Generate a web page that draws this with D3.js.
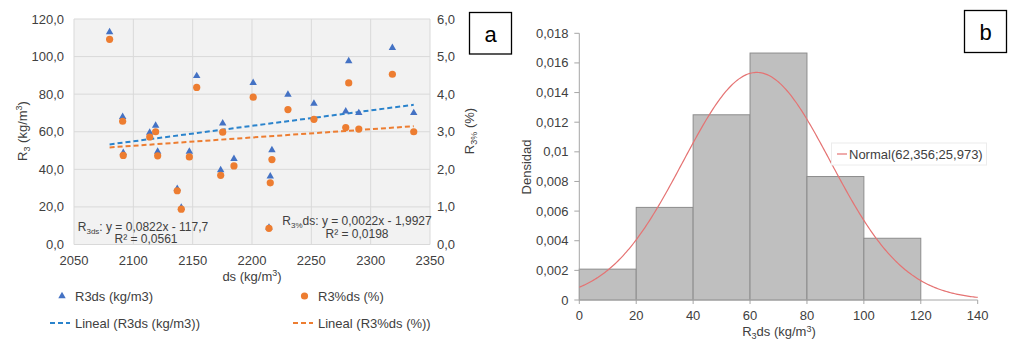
<!DOCTYPE html>
<html><head><meta charset="utf-8">
<script src="https://cdn.jsdelivr.net/npm/d3@7"></script>
<style>
html,body{margin:0;padding:0;background:#fff;}
svg{display:block;font-family:"Liberation Sans",Arial,sans-serif;}
</style></head>
<body>
<script>
// ---------- Data: panel a ----------
const ds = [2080, 2091, 2091.5, 2113.8, 2118.8, 2120.5, 2137, 2140.4, 2147.2, 2153.4, 2173.6, 2175.3,
            2184.8, 2201, 2214.3, 2215.4, 2216.8, 2230.3, 2252.2, 2279, 2281.5, 2290, 2318.3, 2336.3];
const r3ds = [113, 67.9, 48.8, 59.6, 63.3, 49.5, 29.6, 19.6, 49.5, 89.7, 39.6, 64.5,
              45.6, 86.0, 9, 36.3, 50.2, 79.8, 75.0, 70.9, 97.6, 70.0, 104.7, 70.0];
const r3pct = [5.46, 3.28, 2.37, 2.86, 3.0, 2.36, 1.43, 0.94, 2.33, 4.18, 1.84, 2.99,
               2.09, 3.92, 0.43, 1.64, 2.26, 3.59, 3.33, 3.11, 4.30, 3.07, 4.53, 3.0];
const trendR3 = {slope: 0.0822, intercept: -117.7};
const trendPct = {slope: 0.0022, intercept: -1.9927};
const xTicksA = [2050, 2100, 2150, 2200, 2250, 2300, 2350];
const yTicksLeft = [0, 20, 40, 60, 80, 100, 120];
const yTicksRight = [0, 1, 2, 3, 4, 5, 6];

// ---------- Data: panel b ----------
const binStarts = [0, 20, 40, 60, 80, 100];
const binWidth = 20;
const binDensity = [0.002083, 0.00625, 0.0125, 0.016667, 0.008333, 0.004167];
const normalMean = 62.356, normalSd = 25.973;
const xTicksB = [0, 20, 40, 60, 80, 100, 120, 140];
const yTicksB = [0, 0.002, 0.004, 0.006, 0.008, 0.01, 0.012, 0.014, 0.016, 0.018];

const fmt1 = d => d3.format(".1f")(d).replace(".", ",");
const fmtB = d => d === 0 ? "0" : String(+d.toFixed(3)).replace(".", ",");

const svg = d3.select("body").append("svg").attr("width", 1024).attr("height", 347);
const txt = "#404040";

// ================= Panel a =================
const xA = d3.scaleLinear().domain([2050, 2350]).range([74, 430]);
const yL = d3.scaleLinear().domain([0, 120]).range([244.5, 19]);
const yR = d3.scaleLinear().domain([0, 6]).range([244.5, 19]);
const gA = svg.append("g");

gA.append("rect").attr("x", xA(2050)).attr("y", yL(120))
  .attr("width", xA(2350) - xA(2050)).attr("height", yL(0) - yL(120)).attr("fill", "#f2f2f2");
gA.append("g").selectAll("line").data(xTicksA).join("line")
  .attr("x1", d => xA(d)).attr("x2", d => xA(d)).attr("y1", yL(0)).attr("y2", yL(120))
  .attr("stroke", "#d9d9d9").attr("stroke-width", 1);
gA.append("g").selectAll("line").data(yTicksLeft).join("line")
  .attr("x1", xA(2050)).attr("x2", xA(2350)).attr("y1", d => yL(d)).attr("y2", d => yL(d))
  .attr("stroke", "#d9d9d9").attr("stroke-width", 1);

// axes labels
gA.append("g").selectAll("text").data(yTicksLeft).join("text")
  .attr("x", 64).attr("y", d => yL(d)).attr("dy", "0.35em").attr("text-anchor", "end")
  .attr("font-size", 13).attr("fill", txt).text(fmt1);
gA.append("g").selectAll("text").data(yTicksRight).join("text")
  .attr("x", 437).attr("y", d => yR(d)).attr("dy", "0.35em").attr("text-anchor", "start")
  .attr("font-size", 13).attr("fill", txt).text(fmt1);
gA.append("g").selectAll("text").data(xTicksA).join("text")
  .attr("x", d => xA(d)).attr("y", 260).attr("dy", "0.35em").attr("text-anchor", "middle")
  .attr("font-size", 13).attr("fill", txt).text(d => d);

// axis titles
const tL = gA.append("text").attr("transform", "translate(27,131) rotate(-90)")
  .attr("text-anchor", "middle").attr("font-size", 13).attr("fill", txt);
tL.append("tspan").text("R");
tL.append("tspan").attr("font-size", 9).attr("dy", 3).text("3");
tL.append("tspan").attr("dy", -3).text(" (kg/m");
tL.append("tspan").attr("font-size", 9).attr("dy", -5).text("3");
tL.append("tspan").attr("dy", 5).text(")");

const tR = gA.append("text").attr("transform", "translate(474,131) rotate(-90)")
  .attr("text-anchor", "middle").attr("font-size", 13).attr("fill", txt);
tR.append("tspan").text("R");
tR.append("tspan").attr("font-size", 9).attr("dy", 3).text("3%");
tR.append("tspan").attr("dy", -3).text(" (%)");

const tX = gA.append("text").attr("x", 252).attr("y", 281)
  .attr("text-anchor", "middle").attr("font-size", 13).attr("fill", txt);
tX.append("tspan").text("ds (kg/m");
tX.append("tspan").attr("font-size", 9).attr("dy", -5).text("3");
tX.append("tspan").attr("dy", 5).text(")");

// trendlines
const xMin = d3.min(ds), xMax = d3.max(ds);
const lineA = d3.line().x(d => xA(d[0])).y(d => d[1]);
gA.append("path")
  .attr("d", lineA([[xMin, yL(trendR3.slope * xMin + trendR3.intercept)], [xMax, yL(trendR3.slope * xMax + trendR3.intercept)]]))
  .attr("stroke", "#2a83cc").attr("stroke-width", 2).attr("stroke-dasharray", "5,3").attr("fill", "none");
gA.append("path")
  .attr("d", lineA([[xMin, yR(trendPct.slope * xMin + trendPct.intercept)], [xMax, yR(trendPct.slope * xMax + trendPct.intercept)]]))
  .attr("stroke", "#ed7d31").attr("stroke-width", 2).attr("stroke-dasharray", "5,3").attr("fill", "none");

// points
const tri = d3.symbol().type(d3.symbolTriangle).size(24);
gA.append("g").selectAll("path").data(ds.map((d, i) => [d, r3ds[i]])).join("path")
  .attr("d", tri).attr("transform", d => `translate(${xA(d[0])},${yL(d[1])})`).attr("fill", "#4472c4");
gA.append("g").selectAll("circle").data(ds.map((d, i) => [d, r3pct[i]])).join("circle")
  .attr("cx", d => xA(d[0])).attr("cy", d => yR(d[1])).attr("r", 3.6).attr("fill", "#ed7d31");

// equations
const e1 = gA.append("text").attr("x", 143).attr("y", 231).attr("text-anchor", "middle")
  .attr("font-size", 12).attr("fill", txt);
e1.append("tspan").text("R");
e1.append("tspan").attr("font-size", 8).attr("dy", 3).text("3ds");
e1.append("tspan").attr("dy", -3).text(": y = 0,0822x - 117,7");
gA.append("text").attr("x", 146).attr("y", 243).attr("text-anchor", "middle")
  .attr("font-size", 12).attr("fill", txt).text("R² = 0,0561");
const e2 = gA.append("text").attr("x", 357).attr("y", 225).attr("text-anchor", "middle")
  .attr("font-size", 12).attr("fill", txt);
e2.append("tspan").text("R");
e2.append("tspan").attr("font-size", 8).attr("dy", 3).text("3%");
e2.append("tspan").attr("dy", -3).text("ds: y = 0,0022x - 1,9927");
gA.append("text").attr("x", 357).attr("y", 238).attr("text-anchor", "middle")
  .attr("font-size", 12).attr("fill", txt).text("R² = 0,0198");

// legend
gA.append("path").attr("d", tri).attr("transform", "translate(62,296)").attr("fill", "#4472c4");
gA.append("text").attr("x", 75).attr("y", 296).attr("dy", "0.35em").attr("font-size", 13).attr("fill", txt).text("R3ds (kg/m3)");
gA.append("circle").attr("cx", 304.5).attr("cy", 296).attr("r", 3.6).attr("fill", "#ed7d31");
gA.append("text").attr("x", 318).attr("y", 296).attr("dy", "0.35em").attr("font-size", 13).attr("fill", txt).text("R3%ds (%)");
gA.append("line").attr("x1", 50).attr("x2", 70).attr("y1", 323).attr("y2", 323)
  .attr("stroke", "#2a83cc").attr("stroke-width", 2).attr("stroke-dasharray", "5,3");
gA.append("text").attr("x", 75).attr("y", 323).attr("dy", "0.35em").attr("font-size", 13).attr("fill", txt).text("Lineal (R3ds (kg/m3))");
gA.append("line").attr("x1", 293).attr("x2", 313).attr("y1", 323).attr("y2", 323)
  .attr("stroke", "#ed7d31").attr("stroke-width", 2).attr("stroke-dasharray", "5,3");
gA.append("text").attr("x", 318).attr("y", 323).attr("dy", "0.35em").attr("font-size", 13).attr("fill", txt).text("Lineal (R3%ds (%))");

// label box a
gA.append("rect").attr("x", 469.5).attr("y", 12.5).attr("width", 42).attr("height", 41.5)
  .attr("fill", "#fff").attr("stroke", "#000").attr("stroke-width", 1.3);
gA.append("text").attr("x", 490.5).attr("y", 34).attr("dy", "0.35em").attr("text-anchor", "middle")
  .attr("font-size", 22).attr("fill", "#000").text("a");

// ================= Panel b =================
const xB = d3.scaleLinear().domain([0, 140]).range([579.3, 977.7]);
const yB = d3.scaleLinear().domain([0, 0.018]).range([300, 33.3]);
const gB = svg.append("g");

gB.append("g").selectAll("rect").data(binStarts.map((s, i) => [s, binDensity[i]])).join("rect")
  .attr("x", d => xB(d[0])).attr("y", d => yB(d[1]))
  .attr("width", d => xB(d[0] + binWidth) - xB(d[0])).attr("height", d => yB(0) - yB(d[1]))
  .attr("fill", "#bfbfbf").attr("stroke", "#8c8c8c").attr("stroke-width", 1);

// axes
gB.append("line").attr("x1", xB(0)).attr("x2", xB(0)).attr("y1", yB(0)).attr("y2", yB(0.018))
  .attr("stroke", "#a6a6a6");
gB.append("line").attr("x1", xB(0)).attr("x2", xB(140)).attr("y1", yB(0)).attr("y2", yB(0))
  .attr("stroke", "#a6a6a6");
gB.append("g").selectAll("line").data(yTicksB).join("line")
  .attr("x1", xB(0) - 5).attr("x2", xB(0)).attr("y1", d => yB(d)).attr("y2", d => yB(d)).attr("stroke", "#a6a6a6");
gB.append("g").selectAll("line").data(xTicksB).join("line")
  .attr("x1", d => xB(d)).attr("x2", d => xB(d)).attr("y1", yB(0)).attr("y2", yB(0) + 4).attr("stroke", "#a6a6a6");
gB.append("g").selectAll("text").data(yTicksB).join("text")
  .attr("x", 568.5).attr("y", d => yB(d)).attr("dy", "0.35em").attr("text-anchor", "end")
  .attr("font-size", 13).attr("fill", txt).text(fmtB);
gB.append("g").selectAll("text").data(xTicksB).join("text")
  .attr("x", d => xB(d)).attr("y", 315).attr("dy", "0.35em").attr("text-anchor", "middle")
  .attr("font-size", 13).attr("fill", txt).text(d => d);

gB.append("text").attr("transform", "translate(531,167) rotate(-90)")
  .attr("text-anchor", "middle").attr("font-size", 13).attr("fill", txt).text("Densidad");
const tXB = gB.append("text").attr("x", 779).attr("y", 336)
  .attr("text-anchor", "middle").attr("font-size", 13).attr("fill", txt);
tXB.append("tspan").text("R");
tXB.append("tspan").attr("font-size", 9).attr("dy", 3).text("3");
tXB.append("tspan").attr("dy", -3).text("ds (kg/m");
tXB.append("tspan").attr("font-size", 9).attr("dy", -4).text("3");
tXB.append("tspan").attr("dy", 4).text(")");

// fitted normal curve (from legend parameters)
const pdf = x => Math.exp(-0.5 * ((x - normalMean) / normalSd) ** 2) / (normalSd * Math.sqrt(2 * Math.PI));
const curveXs = d3.range(0, 140.01, 0.5);
gB.append("path").datum(curveXs)
  .attr("d", d3.line().x(d => xB(d)).y(d => yB(pdf(d))))
  .attr("fill", "none").attr("stroke", "#e57373").attr("stroke-width", 1.2);

// legend
gB.append("rect").attr("x", 831.5).attr("y", 143).attr("width", 155).attr("height", 22)
  .attr("fill", "#fff").attr("stroke", "#ececec");
gB.append("line").attr("x1", 837).attr("x2", 847).attr("y1", 154).attr("y2", 154).attr("stroke", "#e57373").attr("stroke-width", 1.2);
gB.append("text").attr("x", 849).attr("y", 154).attr("dy", "0.35em").attr("font-size", 13).attr("fill", txt)
  .text(`Normal(${String(normalMean).replace(".", ",")};${String(normalSd).replace(".", ",")})`);

gB.append("rect").attr("x", 964.5).attr("y", 10.5).attr("width", 42).attr("height", 42)
  .attr("fill", "#fff").attr("stroke", "#000").attr("stroke-width", 1.3);
gB.append("text").attr("x", 985.5).attr("y", 32).attr("dy", "0.35em").attr("text-anchor", "middle")
  .attr("font-size", 22).attr("fill", "#000").text("b");
</script>
</body></html>
